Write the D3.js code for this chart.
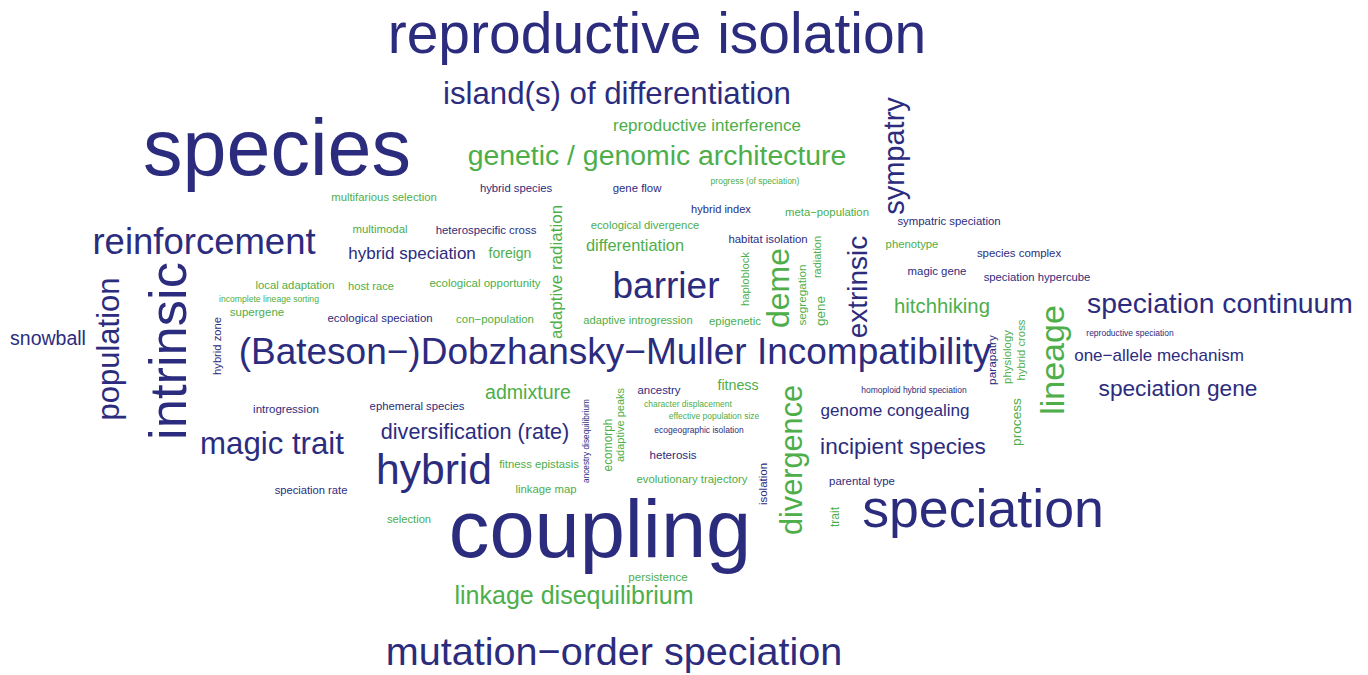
<!DOCTYPE html>
<html><head><meta charset="utf-8">
<script src="https://cdn.jsdelivr.net/npm/d3@7"></script>
<style>html,body{margin:0;padding:0;background:#fff;overflow:hidden}</style>
</head><body>
<svg id="chart" width="1368" height="675"></svg>
<script>
// Terms of the cloud
const words = ["reproductive isolation","island(s) of differentiation","species","reproductive interference","genetic / genomic architecture","sympatry","multifarious selection","hybrid species","gene flow","progress (of speciation)","hybrid index","meta\u2212population","multimodal","heterospecific cross","ecological divergence","sympatric speciation","reinforcement","hybrid speciation","foreign","adaptive radiation","differentiation","habitat isolation","radiation","haploblock","deme","segregation","gene","extrinsic","phenotype","species complex","magic gene","speciation hypercube","barrier","intrinsic","population","snowball","hybrid zone","local adaptation","host race","ecological opportunity","incomplete lineage sorting","supergene","ecological speciation","con\u2212population","adaptive introgression","epigenetic","hitchhiking","speciation continuum","lineage","(Bateson\u2212)Dobzhansky\u2212Muller Incompatibility","parapatry","physiology","hybrid cross","process","reproductive speciation","one\u2212allele mechanism","speciation gene","admixture","ancestry","fitness","character displacement","effective population size","ecogeographic isolation","homoploid hybrid speciation","genome congealing","divergence","incipient species","introgression","ephemeral species","magic trait","diversification (rate)","hybrid","ancestry disequilibrium","ecomorph","adaptive peaks","heterosis","fitness epistasis","linkage map","evolutionary trajectory","isolation","parental type","trait","speciation","coupling","speciation rate","selection","persistence","linkage disequilibrium","mutation\u2212order speciation"];
// Weight of each term (drives text size)
const weights = [57,31.2,79,17,28.4,29,11.3,11.3,11.4,8.5,11.1,11.3,11.4,11.4,11.3,11.4,36.5,17,14,17,16.4,11.4,11,11.3,32,11.7,13.5,28,11.3,11.4,11.4,11.3,37,52.5,31,19.5,11.2,11.3,11.2,11.5,8.6,11.5,11.4,11.45,11.2,11.4,20.3,28.3,34,37,11.8,11.4,11.3,13.7,8.5,17,22.7,19.6,11.4,14.2,8.5,8.5,8.5,8.5,17.1,30.7,22.6,11.5,11.3,31.2,21.6,42.6,8.25,11.9,11,11.6,11.3,11.3,11.35,11.5,11.4,12,53.7,81.2,11.2,11.2,11.6,25,39.6];
// Group of each term (0 = first class, 1 = second class)
const groups = [0,0,0,1,1,0,1,0,0,1,0,1,1,0,1,0,0,0,1,1,1,0,1,1,1,1,1,0,1,0,0,0,0,0,0,0,0,1,1,1,1,1,0,1,1,1,1,0,1,0,0,1,1,1,0,0,0,1,0,1,1,1,0,0,0,1,0,0,0,0,0,0,0,1,1,0,1,1,1,0,0,1,0,0,0,1,1,1,0];
// Orientation of each term (0 = horizontal, 1 = vertical)
const vertical = [0,0,0,0,0,1,0,0,0,0,0,0,0,0,0,0,0,0,0,1,0,0,1,1,1,1,1,1,0,0,0,0,0,1,1,0,1,0,0,0,0,0,0,0,0,0,0,0,1,0,1,1,1,1,0,0,0,0,0,0,0,0,0,0,0,1,0,0,0,0,0,0,1,1,1,0,0,0,0,1,0,1,0,0,0,0,0,0,0];
// Cloud layout coordinates (cloud units: along-text centre, baseline)
const cloudX = [657,617,277,707,657,904,384,516,637,755,721,827,380,486,645,949,204,412,510,562,635,768,821,749,789,806,825,867,912,1019,937,1037,666,186,119,48,221,295,371,485,269,257,380,495,638,735,942,1220,1064,615,996,1011,1025,1021,1130,1159,1178,528,659,738,688,714,699,914,895,802,903,286,417,272,475,434,589,612,624,673,539,546,692,767,862,839,983,600,311,409,658,574,614];
const cloudY = [53,104,175,131,165,156,201,192,192,184,213,216,233,234,229,225,254,259,258,272,251,243,257,279,288,295,311,287,248,257,275,281,298,351,349,345,346,289,290,287,302,316,322,323,324,325,313,313,360,364,360,357,350,422,336,361,396,399,394,390,407,419,433,393,416,460,454,413,410,454,439,484,441,445,425,459,468,493,483,484,485,517,527,557,494,523,581,604,665];

const W = 1368, H = 675;
const xScale = d3.scaleLinear().domain([0, 1368]).range([0, W]);
const yScale = d3.scaleLinear().domain([0, 675]).range([0, H]);
const sizeScale = d3.scaleLinear().domain([0, 100]).range([0, 100]);
const color = d3.scaleOrdinal().domain([0, 1]).range(["#2c2c7e", "#4dae4a"]);

const data = words.map((w, i) => ({text: w, weight: weights[i], group: groups[i], vert: vertical[i], cx: cloudX[i], cy: cloudY[i]}));

const svg = d3.select("#chart");
svg.append("g").selectAll("text").data(data).join("text")
  .attr("text-anchor", "middle")
  .attr("font-family", "'Liberation Sans', Arial, Helvetica, sans-serif")
  .attr("font-size", d => sizeScale(d.weight) + "px")
  .attr("fill", d => color(d.group))
  .attr("transform", d => d.vert
      ? `translate(${xScale(d.cx)},${yScale(d.cy)}) rotate(-90)`
      : `translate(${xScale(d.cx)},${yScale(d.cy)})`)
  .text(d => d.text);
</script>
</body></html>
